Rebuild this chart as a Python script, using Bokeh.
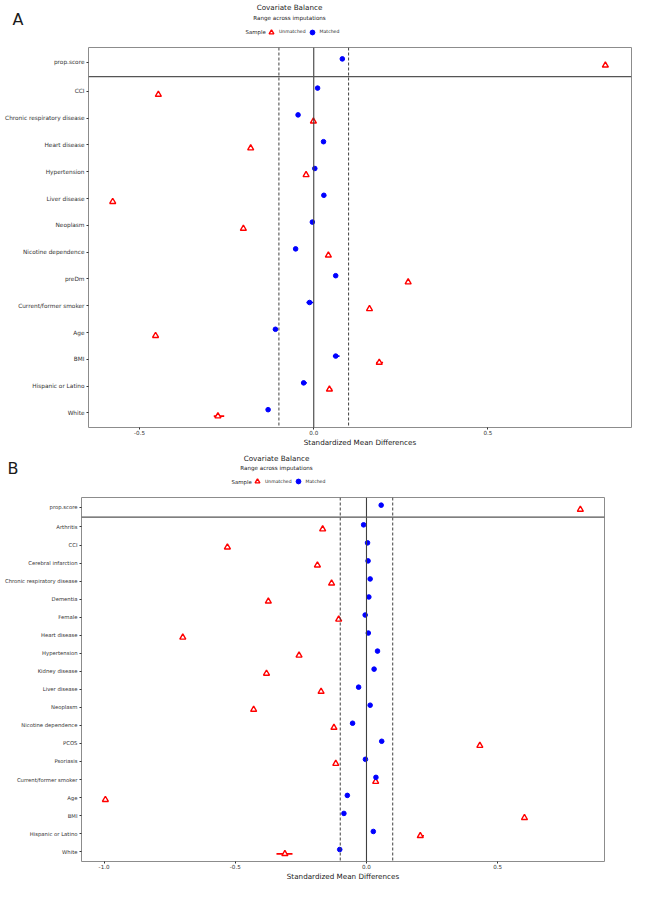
import numpy as np
from bokeh.plotting import figure
from bokeh.models import (Range1d, FixedTicker, NumeralTickFormatter, Span, Label,
                          Legend, LegendItem, ColumnDataSource)
from bokeh.layouts import column
from bokeh.embed import file_html
from bokeh.resources import INLINE

# ---------------- data: panel A ----------------
labels_A = ["prop.score", "CCI", "Chronic respiratory disease", "Heart disease",
            "Hypertension", "Liver disease", "Neoplasm", "Nicotine dependence",
            "preDm", "Current/former smoker", "Age", "BMI", "Hispanic or Latino", "White"]
unmatched_A = [0.837, -0.446, -0.001, -0.181, -0.022, -0.577, -0.202, 0.042,
               0.271, 0.160, -0.454, 0.188, 0.045, -0.275]
unmatched_A_lo = [0.837, -0.446, -0.001, -0.181, -0.022, -0.577, -0.202, 0.042,
                  0.271, 0.160, -0.454, 0.179, 0.038, -0.287]
unmatched_A_hi = [0.837, -0.446, -0.001, -0.181, -0.022, -0.577, -0.202, 0.042,
                  0.271, 0.160, -0.454, 0.199, 0.053, -0.257]
matched_A = [0.082, 0.011, -0.045, 0.028, 0.003, 0.029, -0.004, -0.052,
             0.063, -0.012, -0.110, 0.063, -0.029, -0.131]
matched_A_lo = [0.082, 0.011, -0.045, 0.028, 0.003, 0.029, -0.004, -0.052,
                0.063, -0.021, -0.110, 0.055, -0.036, -0.131]
matched_A_hi = [0.082, 0.011, -0.045, 0.028, 0.003, 0.029, -0.004, -0.052,
                0.063, -0.001, -0.110, 0.074, -0.020, -0.131]
x_ticks_A = [-0.5, 0.0, 0.5]

# ---------------- data: panel B ----------------
labels_B = ["prop.score", "Arthritis", "CCI", "Cerebral infarction",
            "Chronic respiratory disease", "Dementia", "Female", "Heart disease",
            "Hypertension", "Kidney disease", "Liver disease", "Neoplasm",
            "Nicotine dependence", "PCOS", "Psoriasis", "Current/former smoker",
            "Age", "BMI", "Hispanic or Latino", "White"]
unmatched_B = [0.815, -0.167, -0.530, -0.187, -0.133, -0.374, -0.106, -0.700,
               -0.257, -0.381, -0.173, -0.430, -0.124, 0.432, -0.117, 0.035,
               -0.995, 0.602, 0.205, -0.311]
unmatched_B_lo = [0.815, -0.167, -0.530, -0.187, -0.133, -0.374, -0.106, -0.700,
                  -0.257, -0.381, -0.173, -0.430, -0.124, 0.432, -0.117, 0.035,
                  -0.995, 0.598, 0.197, -0.343]
unmatched_B_hi = [0.815, -0.167, -0.530, -0.187, -0.133, -0.374, -0.106, -0.700,
                  -0.257, -0.381, -0.173, -0.430, -0.124, 0.432, -0.117, 0.035,
                  -0.995, 0.607, 0.219, -0.282]
matched_B = [0.056, -0.011, 0.004, 0.006, 0.014, 0.009, -0.005, 0.007,
             0.042, 0.029, -0.030, 0.014, -0.053, 0.058, -0.004, 0.036,
             -0.073, -0.086, 0.026, -0.102]
matched_B_lo = matched_B
matched_B_hi = matched_B
x_ticks_B = [-1.0, -0.5, 0.0, 0.5]

title_text = "Covariate Balance"
subtitle_text = "Range across imputations"
legend_title = "Sample"
legend_labels = ["Unmatched", "Matched"]
x_label = "Standardized Mean Differences"

threshold = 0.1
FONT = "DejaVu Sans"
RED = "#ff0000"
BLUE = "#0000ff"
PAGE_W = 637
UN_STYLE = dict(marker="triangle", size=6, fill_color="white", line_color=RED, line_width=1.4)
M_STYLE = dict(marker="circle", size=4.6, fill_color=BLUE, line_color=BLUE)


def no_align(p):
    if "frame_align" in p.properties():
        p.frame_align = False


def row_positions(n):
    # prop.score sits alone in its own facet; other rows follow (hundredths of a row)
    return [0] + [109 + 100 * (i - 1) for i in range(1, n)]


def make_header(letter, height, hdr):
    h = figure(width=PAGE_W, height=height, output_backend="svg", toolbar_location=None,
               x_range=Range1d(0, PAGE_W), y_range=Range1d(height, 0),
               x_axis_location=None, y_axis_location=None, min_border=0, title=None)
    no_align(h)
    h.xgrid.grid_line_color = None
    h.ygrid.grid_line_color = None
    h.outline_line_color = None
    h.background_fill_color = "white"
    h.border_fill_color = "white"

    def lab(text, x, y, size, align="center"):
        h.add_layout(Label(x=x, y=y, text=text, text_font=FONT, text_font_size=size,
                           text_color="#1a1a1a", text_align=align, text_baseline="middle"))

    lab(letter, hdr["letter_x"], hdr["letter_y"], "16px", "left")
    lab(title_text, hdr["title_x"], hdr["title_y"], "7.2px")
    lab(subtitle_text, hdr["title_x"], hdr["sub_y"], "5.6px")
    lab(legend_title, hdr["sample_x"], hdr["leg_y"], "5.4px", "left")

    # legend key carriers (not drawn: NaN positions)
    key_src = ColumnDataSource(dict(x=np.array([np.nan]), y=np.array([np.nan])))
    r_un = h.scatter(x="x", y="y", source=key_src, **UN_STYLE)
    r_m = h.scatter(x="x", y="y", source=key_src, **M_STYLE)
    legend = Legend(items=[LegendItem(label=legend_labels[0], renderers=[r_un]),
                           LegendItem(label=legend_labels[1], renderers=[r_m])],
                    orientation="horizontal",
                    location=(hdr["legend_x"], height - hdr["leg_y"] - 6),
                    border_line_color=None, background_fill_alpha=0, padding=0, margin=0,
                    spacing=0, label_standoff=2, glyph_width=12, glyph_height=12,
                    label_height=12, label_text_font=FONT, label_text_font_size="4.6px",
                    label_text_color="#1a1a1a", label_text_baseline="middle")
    h.add_layout(legend)
    return h


def make_panel(labels, un, un_lo, un_hi, m, m_lo, m_hi, x_lim, x_ticks,
               height, b_left, b_right, label_px):
    n = len(labels)
    ypos = row_positions(n)
    pad = 54.5
    y_bottom = ypos[-1] + pad
    p = figure(width=PAGE_W, height=height, output_backend="svg", toolbar_location=None,
               x_range=Range1d(*x_lim), y_range=Range1d(y_bottom, -pad),
               min_border_left=b_left, min_border_right=b_right,
               min_border_top=1, min_border_bottom=22, title=None)
    no_align(p)
    p.xgrid.grid_line_color = None
    p.ygrid.grid_line_color = None
    p.outline_line_color = "#8c8c8c"
    p.outline_line_width = 1
    p.background_fill_color = "white"
    p.border_fill_color = "white"

    for v in (-threshold, threshold):
        p.add_layout(Span(location=v, dimension="height", line_color="#404040",
                          line_width=1, line_dash="3 2"))
    p.add_layout(Span(location=0, dimension="height", line_color="#404040", line_width=1.1))
    p.add_layout(Span(location=pad, dimension="width", line_color="#555555", line_width=1.2))

    dodge = 12
    src_un = ColumnDataSource(dict(x=un, lo=un_lo, hi=un_hi, y=[y + dodge for y in ypos]))
    src_m = ColumnDataSource(dict(x=m, lo=m_lo, hi=m_hi, y=[y - dodge for y in ypos]))
    p.segment(x0="lo", x1="hi", y0="y", y1="y", source=src_un, line_color=RED,
              line_width=1.6, line_cap="butt")
    p.scatter(x="x", y="y", source=src_un, **UN_STYLE)
    p.segment(x0="lo", x1="hi", y0="y", y1="y", source=src_m, line_color=BLUE,
              line_width=1.6, line_cap="butt")
    p.scatter(x="x", y="y", source=src_m, **M_STYLE)

    yax = p.yaxis[0]
    yax.ticker = FixedTicker(ticks=ypos)
    yax.major_label_overrides = {y: lab for y, lab in zip(ypos, labels)}
    yax.axis_line_color = None
    yax.minor_tick_line_color = None
    yax.major_tick_out = 2
    yax.major_tick_in = 0
    yax.major_tick_line_color = "#333333"
    yax.major_label_standoff = 2
    yax.major_label_text_font = FONT
    yax.major_label_text_font_size = label_px
    yax.major_label_text_color = "#333333"

    xax = p.xaxis[0]
    xax.ticker = FixedTicker(ticks=x_ticks)
    xax.formatter = NumeralTickFormatter(format="0.0")
    xax.axis_line_color = None
    xax.minor_tick_line_color = None
    xax.major_tick_out = 2
    xax.major_tick_in = 0
    xax.major_tick_line_color = "#333333"
    xax.major_label_standoff = 0
    xax.major_label_text_font = FONT
    xax.major_label_text_font_size = "5.6px"
    xax.major_label_text_color = "#333333"
    xax.axis_label = x_label
    xax.axis_label_text_font = FONT
    xax.axis_label_text_font_size = "7.2px"
    xax.axis_label_text_font_style = "normal"
    xax.axis_label_text_color = "#1a1a1a"
    xax.axis_label_standoff = 0
    return p


hA = make_header("A", 46, dict(letter_x=12, letter_y=19, title_x=289, title_y=6.5,
                               sub_y=17, leg_y=31.5, sample_x=245, legend_x=265))
pA = make_panel(labels_A, unmatched_A, unmatched_A_lo, unmatched_A_hi,
                matched_A, matched_A_lo, matched_A_hi, (-0.6465, 0.912), x_ticks_A,
                403, 88, 6, "5.8px")

hB = make_header("B", 47, dict(letter_x=7, letter_y=18.5, title_x=276, title_y=8.6,
                               sub_y=18.6, leg_y=32.2, sample_x=231, legend_x=251))
pB = make_panel(labels_B, unmatched_B, unmatched_B_lo, unmatched_B_hi,
                matched_B, matched_B_lo, matched_B_hi, (-1.086, 0.907), x_ticks_B,
                387, 81, 33, "5.3px")

layout = column(hA, pA, hB, pB, spacing=0)
open("out.html", "w").write(file_html(layout, INLINE))
